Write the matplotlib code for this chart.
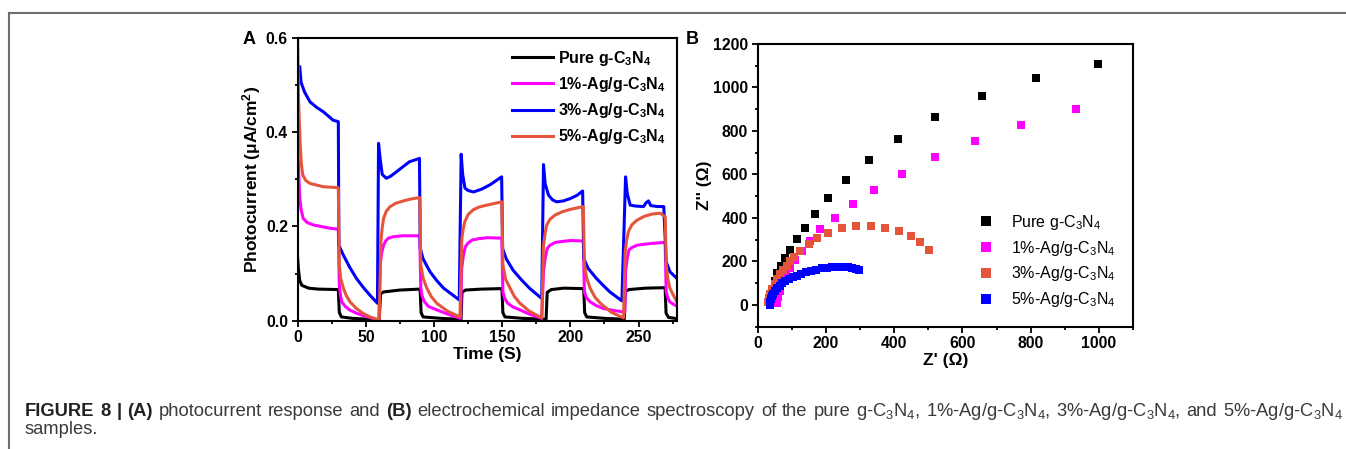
import matplotlib
matplotlib.use("Agg")
import matplotlib.pyplot as plt
from matplotlib.lines import Line2D
from matplotlib.ticker import MultipleLocator, FormatStrFormatter

plt.rcParams['font.family'] = ['Liberation Sans', 'DejaVu Sans']
plt.rcParams['mathtext.fontset'] = 'custom'
plt.rcParams['mathtext.rm'] = 'Liberation Sans'
plt.rcParams['mathtext.bf'] = 'Liberation Sans:bold'
plt.rcParams['mathtext.default'] = 'regular'

# ---------------- Panel A data (time, photocurrent) ----------------
pure_t = [0, 0.5, 1.5, 3, 8, 15, 29.8, 30.5, 32, 40, 59.8, 60.8, 63, 75, 89.8,
          90.5, 92, 105, 119.8, 120.5, 123, 135, 149.8, 150.5, 152, 165, 182.2,
          183, 186, 195, 209.8, 210.5, 212, 225, 239.5, 240.2, 243, 255, 269.5,
          270.2, 272, 279]
pure_v = [0.132, 0.11, 0.085, 0.075, 0.069, 0.067, 0.066, 0.018, 0.008, 0.005, 0.002,
          0.057, 0.061, 0.065, 0.067, 0.017, 0.008, 0.005, 0.003, 0.060, 0.065, 0.067,
          0.068, 0.017, 0.008, 0.005, 0.003, 0.060, 0.066, 0.069, 0.068, 0.017, 0.008,
          0.005, 0.003, 0.062, 0.066, 0.069, 0.070, 0.016, 0.007, 0.004]

ag1_t = [0, 0.8, 1.5, 2.5, 4, 7, 11.5, 23.7, 29.8,
         30.5, 31.3, 32.3, 35, 38, 43, 48, 59.5,
         60.5, 61.5, 63, 64.5, 66.5, 70, 77, 89.5,
         90.3, 91.3, 93, 96, 102, 110, 119.5,
         120.3, 121.5, 123, 125, 128, 133, 139, 149.7,
         150.5, 151.8, 154, 158, 163, 170, 179,
         180.3, 181.5, 183, 185, 189, 194, 200, 209.5,
         210.3, 211.8, 214.5, 219, 224, 231, 238, 240,
         240.5, 241.7, 243, 245, 249, 254, 260, 269.5,
         270.3, 271.5, 273, 276, 279]
ag1_v = [0.372, 0.31, 0.26, 0.235, 0.217, 0.208, 0.203, 0.196, 0.194,
         0.076, 0.055, 0.04, 0.03, 0.023, 0.016, 0.011, 0.001,
         0.118, 0.143, 0.16, 0.169, 0.175, 0.178, 0.18, 0.18,
         0.069, 0.052, 0.04, 0.03, 0.023, 0.014, 0.005,
         0.111, 0.138, 0.157, 0.165, 0.171, 0.174, 0.176, 0.175,
         0.061, 0.047, 0.037, 0.029, 0.023, 0.014, 0.005,
         0.104, 0.132, 0.153, 0.16, 0.166, 0.168, 0.17, 0.169,
         0.061, 0.049, 0.04, 0.032, 0.026, 0.022, 0.019, 0.018,
         0.104, 0.132, 0.15, 0.155, 0.16, 0.162, 0.164, 0.166,
         0.061, 0.048, 0.04, 0.034, 0.03]

ag3_t = [1.5, 2.5, 5, 9, 14, 18.8, 26, 29.8,
         30.2, 33.5, 38, 43, 48, 53, 58.5,
         59.3, 60.6, 62, 65, 68, 72.6, 77, 82, 89.3,
         89.9, 92, 97, 102, 107, 113, 118.5,
         119.9, 121, 122.7, 125, 129, 135, 141, 149.6,
         150.3, 153, 158, 164, 170, 179,
         180.3, 181.5, 184, 187, 190, 195, 200, 205, 209,
         209.8, 213, 219, 224, 229, 237.8,
         240.5, 241.7, 243.9, 248, 253.7, 255.5, 257.3, 259, 264, 268.5,
         270.3, 273, 278]
ag3_v = [0.538, 0.505, 0.485, 0.464, 0.452, 0.443, 0.425, 0.422,
         0.16, 0.139, 0.114, 0.09, 0.071, 0.054, 0.037,
         0.376, 0.34, 0.31, 0.302, 0.306, 0.316, 0.326, 0.337, 0.344,
         0.153, 0.131, 0.104, 0.085, 0.069, 0.056, 0.044,
         0.353, 0.31, 0.281, 0.276, 0.273, 0.279, 0.288, 0.305,
         0.153, 0.131, 0.107, 0.087, 0.069, 0.047,
         0.331, 0.29, 0.266, 0.256, 0.252, 0.254, 0.259, 0.266, 0.275,
         0.132, 0.111, 0.09, 0.075, 0.061, 0.042,
         0.305, 0.27, 0.245, 0.243, 0.242, 0.25, 0.254, 0.244, 0.242, 0.242,
         0.125, 0.104, 0.09]

ag5_t = [0, 0.6, 1.7, 2.6, 3.7, 6, 9, 18.8, 29.8,
         30.5, 31.5, 33.5, 35.5, 38.4, 43, 48, 53, 59.8,
         61, 62, 63, 65, 67.8, 72, 77.5, 83, 89.5,
         90.3, 92, 94.7, 98, 102, 110, 119,
         120.4, 121.5, 122.6, 125, 128.7, 133, 138.7, 149.7,
         150.5, 152.5, 155.8, 159, 163, 170, 179,
         180.3, 181.5, 182.7, 185, 188.8, 194, 200, 209.5,
         210.3, 212, 214.5, 218, 222, 230, 239,
         240.2, 241.3, 242.6, 245, 248.8, 254, 259.8, 266, 269.6,
         270.3, 271.5, 273, 278]
ag5_v = [0.6, 0.47, 0.38, 0.335, 0.309, 0.297, 0.291, 0.284, 0.282,
         0.118, 0.09, 0.069, 0.054, 0.04, 0.026, 0.0155, 0.008, 0.001,
         0.167, 0.197, 0.217, 0.232, 0.242, 0.249, 0.254, 0.258, 0.261,
         0.118, 0.09, 0.069, 0.051, 0.037, 0.02, 0.008,
         0.175, 0.196, 0.21, 0.225, 0.235, 0.241, 0.245, 0.252,
         0.118, 0.088, 0.069, 0.051, 0.037, 0.02, 0.006,
         0.16, 0.186, 0.203, 0.215, 0.224, 0.231, 0.236, 0.242,
         0.118, 0.09, 0.069, 0.05, 0.037, 0.018, 0.006,
         0.146, 0.171, 0.189, 0.203, 0.213, 0.221, 0.226, 0.228, 0.22,
         0.118, 0.088, 0.069, 0.04]

# ---------------- Panel B data (Z', Z'') ----------------
pure_zr = [37, 40, 44, 50, 58, 68, 80, 95, 114, 139, 168, 207, 258, 327, 411, 521,
           656, 817, 997]
pure_zi = [10, 40, 75, 110, 145, 180, 215, 254, 301, 356, 419, 492, 573, 665, 761,
           864, 960, 1042, 1108]

ag1_zr = [57, 60, 65, 72, 82, 95, 110, 129, 152, 183, 227, 279, 342, 424, 521, 638,
          773, 933]
ag1_zi = [10, 35, 65, 100, 135, 170, 207, 250, 296, 347, 402, 465, 530, 604, 679,
          754, 828, 899]

ag3_zr = [30, 32, 36, 42, 51, 57, 65, 75, 85, 95, 105, 124, 149, 175, 207, 247, 288,
          331, 374, 413, 449, 477, 501]
ag3_zi = [12, 30, 51, 74, 97, 120, 143, 162, 181, 200, 219, 250, 281, 307, 332, 353,
          364, 364, 355, 338, 315, 288, 255]

ag5_zr = [36, 37, 39, 42, 46, 51, 57, 64, 72, 81, 91, 102, 114, 127, 141, 156, 171,
          187, 203, 219, 235, 250, 264, 277, 288, 296]
ag5_zi = [2, 14, 27, 40, 52, 65, 77, 89, 100, 110, 119, 127, 135, 143, 150, 157, 163,
          168, 172, 175, 176, 176, 173, 169, 164, 159]

labels = ["Pure g-C$_3$N$_4$", "1%-Ag/g-C$_3$N$_4$", "3%-Ag/g-C$_3$N$_4$",
          "5%-Ag/g-C$_3$N$_4$"]

caption_words = [("FIGURE", True), ("8", True), ("|", True), ("(A)", True),
                 ("photocurrent", False), ("response", False), ("and", False),
                 ("(B)", True), ("electrochemical", False), ("impedance", False),
                 ("spectroscopy", False), ("of", False), ("the", False), ("pure", False),
                 ("g-C$_3$N$_4$,", False), ("1%-Ag/g-C$_3$N$_4$,", False),
                 ("3%-Ag/g-C$_3$N$_4$,", False), ("and", False),
                 ("5%-Ag/g-C$_3$N$_4$", False)]
caption_line2 = "samples."

BLACK = "#000000"
MAGENTA = "#ff00ff"
BLUE = "#0000ff"
ORANGE = "#e5553b"

W, H = 1346, 449
fig = plt.figure(figsize=(W / 100, H / 100), dpi=100)

# figure frame lines
fig.add_artist(Line2D([9 / W, 1], [1 - 12.5 / H, 1 - 12.5 / H], color="#6e6e6e", lw=1.5,
                      transform=fig.transFigure))
fig.add_artist(Line2D([9 / W, 9 / W], [0, 1 - 12.5 / H], color="#6e6e6e", lw=1.5,
                      transform=fig.transFigure))


def style_axes(ax):
    for s in ax.spines.values():
        s.set_linewidth(1.5)
    ax.tick_params(which="both", direction="out", top=False, right=False,
                   width=1.3, labelsize=11.3, pad=3)
    ax.tick_params(which="major", length=4)
    ax.tick_params(which="minor", length=2.5)
    for lab in ax.get_xticklabels() + ax.get_yticklabels():
        lab.set_fontweight("bold")


# ---------------- Panel A ----------------
axA = fig.add_axes([297.7 / W, 1 - 320.7 / H, 379 / W, 283 / H])
axA.plot(pure_t, pure_v, color=BLACK, lw=2.2, label=labels[0])
axA.plot(ag1_t, ag1_v, color=MAGENTA, lw=2.2, label=labels[1])
axA.plot(ag3_t, ag3_v, color=BLUE, lw=2.2, label=labels[2])
axA.plot(ag5_t, ag5_v, color=ORANGE, lw=2.2, label=labels[3])
axA.set_xlim(0, 278)
axA.set_ylim(0, 0.6)
axA.xaxis.set_major_locator(MultipleLocator(50))
axA.xaxis.set_minor_locator(MultipleLocator(25))
axA.yaxis.set_major_locator(MultipleLocator(0.2))
axA.yaxis.set_minor_locator(MultipleLocator(0.1))
axA.yaxis.set_major_formatter(FormatStrFormatter('%.1f'))
style_axes(axA)
axA.set_xlabel("Time (S)", fontsize=12.5, fontweight="bold", labelpad=1)
axA.set_ylabel("Photocurrent (μA/cm$^2$)", fontsize=12.5, fontweight="bold", labelpad=2)
axA.legend(loc="upper right", frameon=False, handlelength=2.6,
           prop={"weight": "bold", "size": 11.5}, labelspacing=0.45,
           borderaxespad=0.3, handletextpad=0.3)
fig.text(243 / W, 1 - 40 / H, "A", fontsize=13, fontweight="bold", va="center")

# ---------------- Panel B ----------------
axB = fig.add_axes([757.7 / W, 1 - 326.7 / H, 375.3 / W, 282.7 / H])
ms = 6
axB.plot(pure_zr, pure_zi, "s", color=BLACK, ms=ms, mew=0, label=labels[0])
axB.plot(ag1_zr, ag1_zi, "s", color=MAGENTA, ms=ms, mew=0, label=labels[1])
axB.plot(ag3_zr, ag3_zi, "s", color=ORANGE, ms=ms, mew=0, label=labels[2])
axB.plot(ag5_zr, ag5_zi, "s", color=BLUE, ms=ms, mew=0, label=labels[3])
axB.set_xlim(0, 1100)
axB.set_ylim(-100, 1200)
axB.xaxis.set_minor_locator(MultipleLocator(100))
axB.yaxis.set_minor_locator(MultipleLocator(100))
axB.set_xticks([0, 200, 400, 600, 800, 1000])
axB.set_yticks([0, 200, 400, 600, 800, 1000, 1200])
style_axes(axB)
axB.set_xlabel("Z' (Ω)", fontsize=12.5, fontweight="bold", labelpad=1)
axB.set_ylabel("Z'' (Ω)", fontsize=12.5, fontweight="bold", labelpad=0.5)
axB.legend(loc="lower right", frameon=False, handlelength=1.2,
           prop={"size": 11.5}, labelspacing=0.42, borderaxespad=0.7,
           handletextpad=0.95, markerscale=1.15)
fig.text(686 / W, 1 - 40 / H, "B", fontsize=13, fontweight="bold", va="center")

# ---------------- Caption (justified first line) ----------------
CAP = "#3a3a3a"
CS = 13.2
x_left, x_right = 25, 1343
y1 = 1 - 416 / H
renderer = fig.canvas.get_renderer()
texts = []
for word, bold in caption_words:
    t = fig.text(0, y1, word, fontsize=CS, va="baseline",
                 fontweight="bold" if bold else "normal",
                 color="#222222" if bold else CAP)
    texts.append(t)
widths = [t.get_window_extent(renderer).width for t in texts]
gap = (x_right - x_left - sum(widths)) / (len(texts) - 1)
x = x_left
for t, w in zip(texts, widths):
    t.set_x(x / W)
    x += w + gap
fig.text(x_left / W, 1 - 434 / H, caption_line2, fontsize=CS, color=CAP, va="baseline")

fig.savefig("out.png", dpi=100)
